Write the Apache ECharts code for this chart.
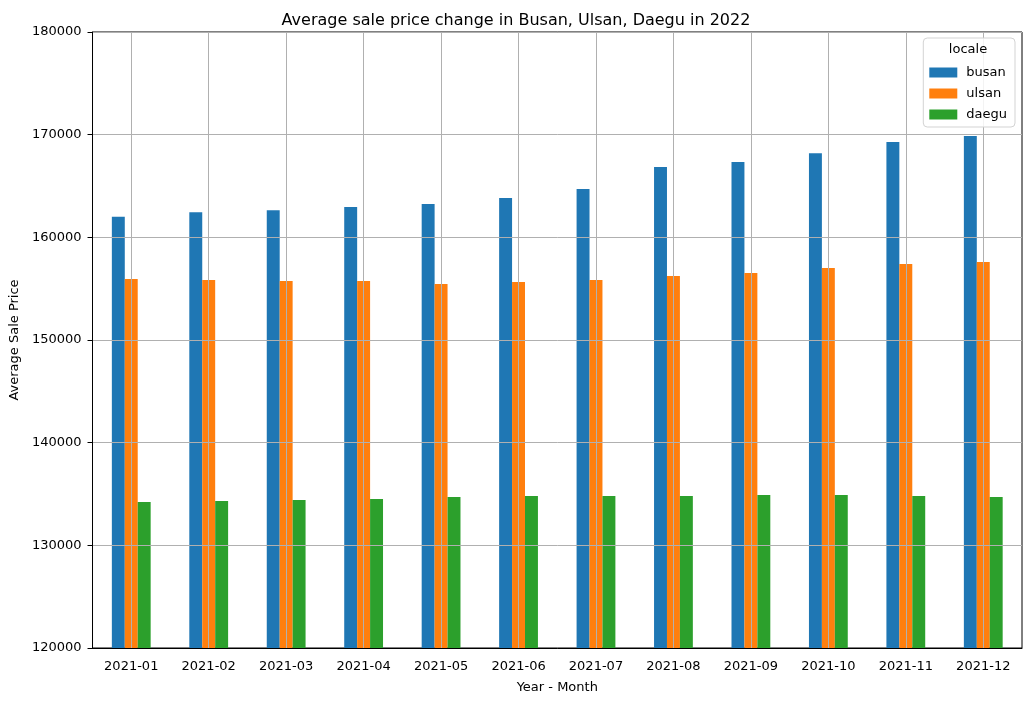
<!DOCTYPE html>
<html>
<head>
<meta charset="utf-8">
<script src="https://cdn.jsdelivr.net/npm/echarts@6/dist/echarts.min.js"></script>
<style>
  html, body { margin: 0; padding: 0; background: #fff; }
  #chart { width: 1032px; height: 701px; }
</style>
</head>
<body>
<div id="chart"></div>
<script>
var months = ['2021-01', '2021-02', '2021-03', '2021-04', '2021-05', '2021-06',
  '2021-07', '2021-08', '2021-09', '2021-10', '2021-11', '2021-12'];
var busan = [162000, 162450, 162650, 162950, 163250, 163830, 164700, 166850, 167330, 168200, 169280, 169860];
var ulsan = [155940, 155840, 155740, 155740, 155450, 155650, 155840, 156230, 156520, 157010, 157400, 157590];
var daegu = [134220, 134320, 134420, 134520, 134710, 134800, 134800, 134800, 134900, 134900, 134800, 134710];
var yTicks = [120000, 180000, 10000]; // min, max, step

var font = 'DejaVu Sans';
var chart = echarts.init(document.getElementById('chart'));

function bar(name, data, color) {
  return {
    name: name,
    type: 'bar',
    data: data,
    z: 1,
    barWidth: '16.7%',
    barGap: '0%',
    itemStyle: { color: color },
    emphasis: { disabled: true }
  };
}

var option = {
  animation: false,
  backgroundColor: '#fff',
  textStyle: { fontFamily: font },
  title: {
    text: 'Average sale price change in Busan, Ulsan, Daegu in 2022',
    left: 'center',
    top: 8,
    textStyle: { fontFamily: font, fontSize: 16, fontWeight: 'normal', color: '#000' }
  },
  graphic: [{
    type: 'text',
    x: 968,
    y: 50,
    z: 100,
    style: { text: 'locale', font: '13px "DejaVu Sans"', fill: '#000', textAlign: 'center', textVerticalAlign: 'middle' }
  }],
  legend: {
    orient: 'vertical',
    right: 17,
    top: 38,
    z: 50,
    itemWidth: 28,
    itemHeight: 10,
    itemGap: 8,
    padding: [28, 8, 6, 6],
    borderColor: '#d3d3d3',
    borderWidth: 1,
    borderRadius: 4,
    backgroundColor: 'rgba(255,255,255,0.85)',
    icon: 'rect',
    textStyle: { fontFamily: font, fontSize: 13, color: '#000', padding: [0, 0, 0, 4] },
    data: ['busan', 'ulsan', 'daegu']
  },
  grid: {
    left: 92,
    right: 10,
    top: 32,
    bottom: 53,
    show: true,
    borderColor: '#000',
    borderWidth: 1,
    containLabel: false
  },
  xAxis: {
    type: 'category',
    data: months,
    z: 3,
    name: 'Year - Month',
    nameLocation: 'middle',
    nameGap: 33,
    nameTextStyle: { fontFamily: font, fontSize: 13, color: '#000' },
    axisLine: { lineStyle: { color: '#000' } },
    axisTick: { alignWithLabel: true, length: 5, lineStyle: { color: '#000' } },
    axisLabel: { fontFamily: font, fontSize: 13, color: '#000', margin: 12 },
    splitLine: { show: true, alignWithLabel: true, lineStyle: { color: '#b0b0b0', width: 1 } }
  },
  yAxis: {
    type: 'value',
    z: 3,
    min: yTicks[0],
    max: yTicks[1],
    interval: yTicks[2],
    name: 'Average Sale Price',
    nameLocation: 'middle',
    nameGap: 66,
    nameTextStyle: { fontFamily: font, fontSize: 13, color: '#000' },
    axisLine: { show: true, lineStyle: { color: '#000' } },
    axisTick: { show: true, length: 5, lineStyle: { color: '#000' } },
    axisLabel: { fontFamily: font, fontSize: 13, color: '#000', margin: 11, formatter: function (v) { return String(v); } },
    splitLine: { show: true, lineStyle: { color: '#b0b0b0', width: 1 } }
  },
  series: [
    bar('busan', busan, '#1f77b4'),
    bar('ulsan', ulsan, '#ff7f0e'),
    bar('daegu', daegu, '#2ca02c')
  ]
};

chart.setOption(option);
</script>
</body>
</html>
